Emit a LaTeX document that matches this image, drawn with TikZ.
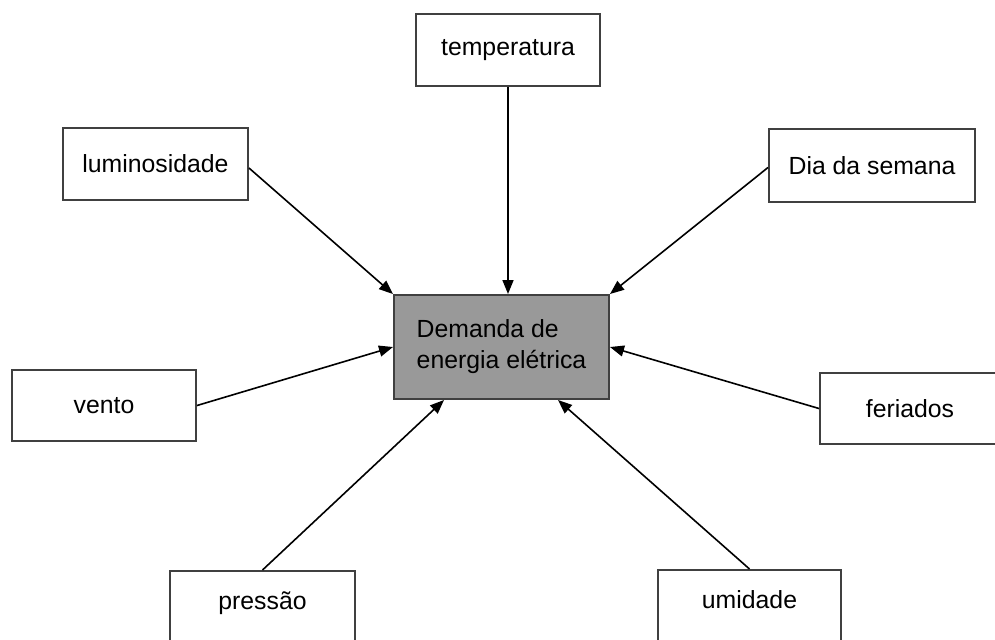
\documentclass[tikz,border=0pt]{standalone}
\usepackage{fontspec}
\setmainfont{Liberation Sans}
\usetikzlibrary{arrows.meta}
\definecolor{boxline}{HTML}{404040}
\definecolor{centerfill}{HTML}{999999}
\begin{document}
\begin{tikzpicture}[x=0.5pt,y=-0.5pt,
  every node/.style={font=\fontsize{12.4}{15.5}\selectfont, text=black},
  factor/.style={draw=boxline, line width=1pt, fill=white, rectangle, inner sep=0pt, anchor=north west},
  cutfactor/.style={factor, text height=19pt, text depth=24pt},
  centerbox/.style={draw=boxline, line width=1pt, fill=centerfill, rectangle, inner sep=0pt, anchor=north west, align=left, minimum width=107.5pt, minimum height=52pt},
  link/.style={draw=black, line width=0.8pt, -{Triangle[length=7pt,width=5.5pt]}}]
\useasboundingbox (0,0) rectangle (995,639);
\fill[white] (0,0) rectangle (995,639);
% central node
\node[centerbox] (dem) at (393,294) {Demanda de\\energia elétrica};
% factors
\node[factor, minimum width=92pt, minimum height=36pt] (temp) at (415,13) {temperatura};
\node[factor, minimum width=92.5pt, minimum height=36pt] (lum) at (62,127) {luminosidade};
\node[factor, minimum width=103pt, minimum height=36.5pt] (dia) at (768,128) {Dia da semana};
\node[factor, minimum width=92pt, minimum height=35.5pt] (vento) at (11,369) {vento};
\node[factor, minimum width=90pt, minimum height=35.5pt] (fer) at (819,372) {feriados};
\node[cutfactor, minimum width=92.5pt] (pres) at (169,570) {pressão};
\node[cutfactor, minimum width=91.5pt] (umid) at (657,569) {umidade};
% target points on the central box
\coordinate (dlft) at ([xshift=-28.75pt]dem.south);
\coordinate (drgt) at ([xshift=28.25pt]dem.south);
% connectors
\draw[link] (temp.south) -- (temp.south |- dem.north);
\draw[link] ([yshift=-2pt]lum.east) -- (dem.north west);
\draw[link] ([yshift=-1pt]dia.west) -- (dem.north east);
\draw[link] (vento.east) -- (dem.west);
\draw[link] (fer.west) -- (dem.east);
\draw[link] (pres.north) -- (dlft);
\draw[link] (umid.north) -- (drgt);
\end{tikzpicture}
\end{document}
